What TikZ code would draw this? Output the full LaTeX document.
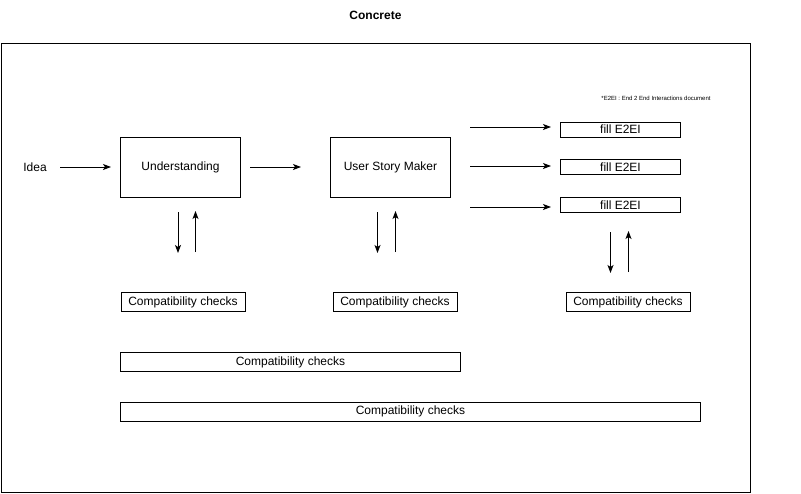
\documentclass[tikz,border=0pt]{standalone}
\usepackage{fontspec}
\setmainfont{Liberation Sans}
\usetikzlibrary{arrows.meta}
\begin{document}
\begin{tikzpicture}[x=1pt,y=-1pt,
  every node/.style={font=\fontsize{12}{14}\selectfont, inner sep=0pt},
  proc/.style={draw, line width=1pt, minimum width=120pt, minimum height=60pt},
  fillbox/.style={draw, line width=1pt, minimum width=120pt, minimum height=15pt},
  compat/.style={draw, line width=1pt, minimum height=19pt},
  conn/.style={line width=1pt, -{Stealth[length=8pt,width=6pt,inset=2pt]}}]
\useasboundingbox (0,0) rectangle (801,493);
\node[font=\bfseries\fontsize{12}{14}\selectfont] (title) at (375.5,15) {Concrete};
\draw[line width=1pt] (1,43) rectangle (750,492);
\node[font=\fontsize{6}{7}\selectfont] (note) at (656,98) {*E2EI : End 2 End Interactions document};
\node (idea) at (35,167.5) {Idea};
\node[proc] (und) at (180.5,167) {\raisebox{-1pt}{Understanding}};
\node[proc] (usm) at (390.5,167) {\raisebox{-1pt}{User Story Maker}};
\node[fillbox] (f1) at (620.5,129.5) {fill E2EI};
\node[fillbox] (f2) at (620.5,167) {fill E2EI};
\node[fillbox] (f3) at (620.5,205) {fill E2EI};
\node[compat, minimum width=124pt] (c1) at (183,302) {\raisebox{-0.5pt}{Compatibility checks}};
\node[compat, minimum width=124pt] (c2) at (395,302) {\raisebox{-0.5pt}{Compatibility checks}};
\node[compat, minimum width=124pt] (c3) at (628,302) {\raisebox{-0.5pt}{Compatibility checks}};
\node[compat, minimum width=340pt] (c4) at (290.5,362) {\raisebox{-0.5pt}{Compatibility checks}};
\node[compat, minimum width=580pt] (c5) at (410.5,411.5) {\raisebox{-0.5pt}{Compatibility checks}};
% free connector end points
\coordinate (a1s) at (60,167); \coordinate (a1e) at (111,167);
\coordinate (a2s) at (250,167); \coordinate (a2e) at (301,167);
\coordinate (a3s) at (470,127); \coordinate (a3e) at (551,127);
\coordinate (a4s) at (470,166); \coordinate (a4e) at (551,166);
\coordinate (a5s) at (470,207); \coordinate (a5e) at (551,207);
\coordinate (d1s) at (178,212); \coordinate (d1e) at (178,253);
\coordinate (u1s) at (195.5,252); \coordinate (u1e) at (195.5,211);
\coordinate (d2s) at (377.5,212); \coordinate (d2e) at (377.5,253);
\coordinate (u2s) at (395.5,252); \coordinate (u2e) at (395.5,211);
\coordinate (d3s) at (610.5,232); \coordinate (d3e) at (610.5,273);
\coordinate (u3s) at (628.5,272); \coordinate (u3e) at (628.5,231);
\foreach \s/\e in {a1s/a1e,a2s/a2e,a3s/a3e,a4s/a4e,a5s/a5e,d1s/d1e,u1s/u1e,d2s/d2e,u2s/u2e,d3s/d3e,u3s/u3e}
  \draw[conn] (\s) -- (\e);
\end{tikzpicture}
\end{document}
